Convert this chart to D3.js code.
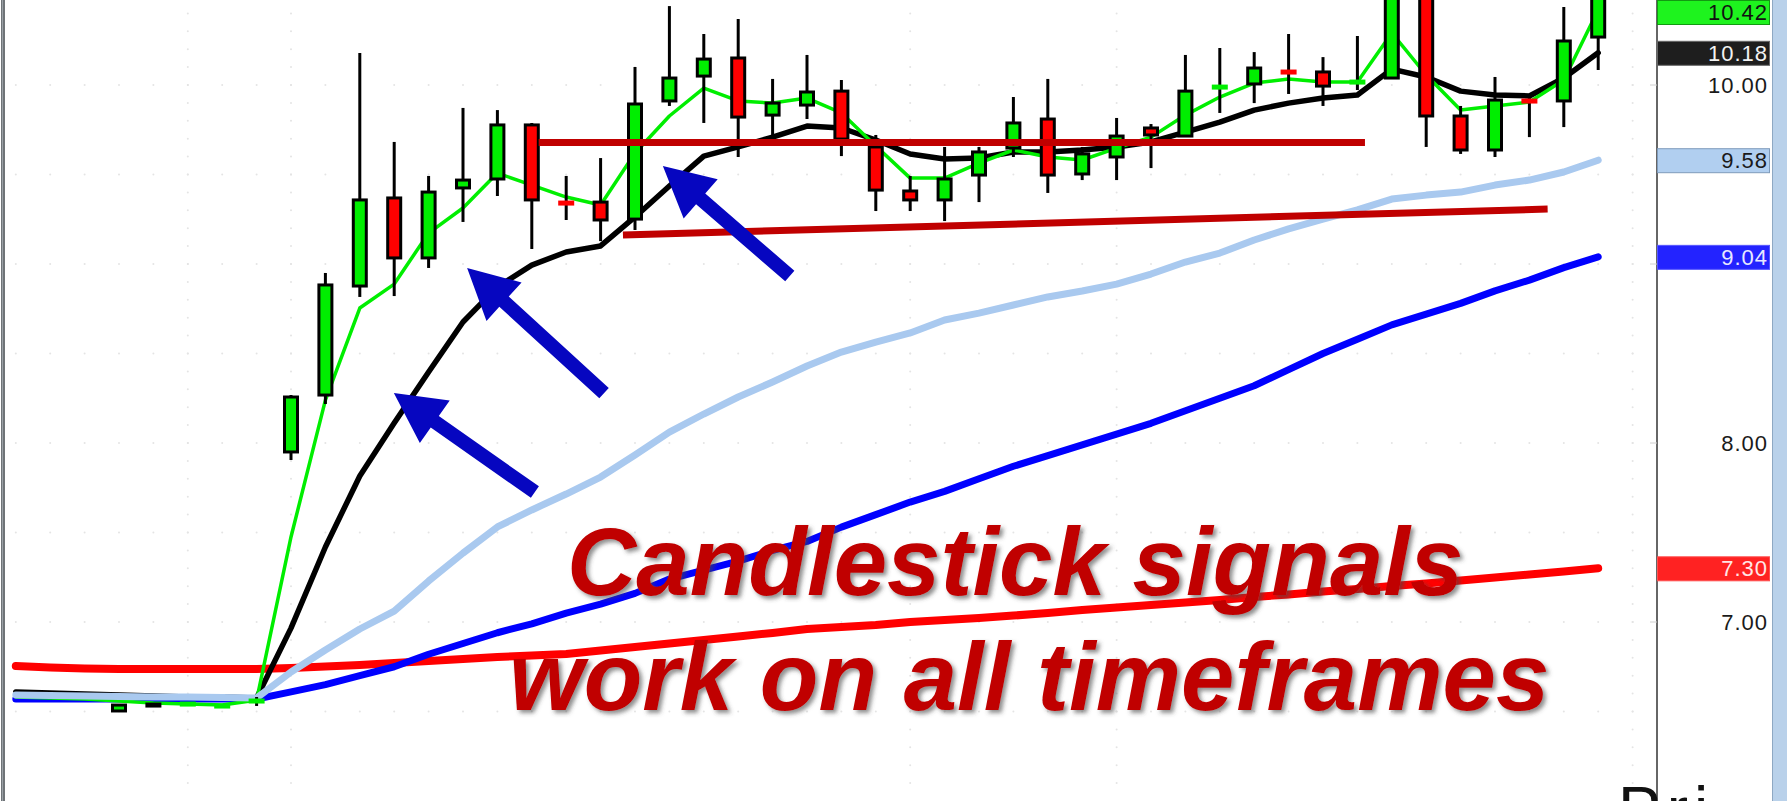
<!DOCTYPE html>
<meta charset="utf-8">
<head>
  <title>Candlestick signals</title>
</head>

<style>
  html, body { margin: 0; padding: 0; background: #fff; overflow: hidden; }
  svg { display: block; }
  .plabel { font-family: "Liberation Sans", Arial, sans-serif; font-size: 22px; letter-spacing: 1px; }
  .note { font-family: "Liberation Sans", Arial, sans-serif; font-size: 96px; font-weight: bold; font-style: italic; fill: #c00000; }
</style>

<body>
  <div id="content"></div>
  <script src="https://cdnjs.cloudflare.com/ajax/libs/d3/7.8.5/d3.min.js"></script>
  <script>

const width = 1787
const height = 801

// candles (index 0..46), null = no bar
var opens  = [null,null,null,6.503,6.536,6.540,6.525,6.553,7.950,8.268,8.877,9.369,9.034,9.425,9.475,9.777,9.346,9.346,9.251,9.911,10.050,10.151,9.832,9.888,9.966,9.654,9.408,9.358,9.497,9.648,9.810,9.503,9.598,9.760,9.715,9.983,10.006,10.078,10.073,10.011,10.039,10.587,9.827,9.637,9.916,9.911,10.268];
var highs  = [null,null,null,6.536,6.536,6.543,6.536,6.581,8.268,8.950,10.179,9.682,9.492,9.872,9.860,9.788,9.492,9.592,10.101,10.441,10.285,10.369,10.034,10.168,10.028,9.721,9.492,9.654,9.654,9.933,10.034,9.654,9.816,9.782,10.168,10.207,10.184,10.285,10.156,10.274,10.698,10.698,9.883,10.045,9.933,10.436,10.698];
var lows   = [null,null,null,6.503,6.536,6.540,6.525,6.531,7.905,8.218,8.816,8.821,8.978,9.235,9.380,9.084,9.246,9.128,9.190,9.883,9.788,9.598,9.676,9.810,9.603,9.296,9.296,9.240,9.346,9.598,9.397,9.469,9.469,9.536,9.715,9.844,9.899,9.950,9.883,9.972,10.035,9.654,9.615,9.598,9.709,9.765,10.084];
var closes = [null,null,null,6.536,6.536,6.543,6.536,6.564,8.257,8.883,9.358,9.034,9.402,9.469,9.777,9.358,9.335,9.246,9.894,10.039,10.145,9.821,9.899,9.961,9.698,9.413,9.358,9.475,9.626,9.788,9.497,9.615,9.715,9.721,9.966,9.994,10.095,10.067,9.994,10.022,10.559,9.827,9.637,9.916,9.905,10.246,10.559];

// moving averages
var maGreen = [6.581,6.575,6.570,6.559,6.547,6.542,6.536,6.564,7.475,8.240,8.754,8.888,9.173,9.313,9.508,9.441,9.374,9.330,9.620,9.827,9.983,9.911,9.899,9.927,9.844,9.659,9.480,9.480,9.564,9.637,9.598,9.581,9.648,9.709,9.832,9.933,10.011,10.034,10.017,10.017,10.291,10.056,9.860,9.883,9.905,10.028,10.420];
var maBlack = [6.609,6.603,6.598,6.592,6.587,6.581,6.581,6.575,6.966,7.419,7.816,8.112,8.397,8.676,8.872,8.994,9.067,9.101,9.263,9.436,9.603,9.654,9.709,9.771,9.760,9.693,9.615,9.587,9.592,9.626,9.626,9.637,9.654,9.682,9.737,9.793,9.860,9.899,9.927,9.944,10.089,10.045,9.966,9.944,9.939,10.039,10.180];
var maLightBlue = [6.592,6.589,6.587,6.584,6.581,6.581,6.578,6.575,6.721,6.844,6.961,7.061,7.229,7.385,7.531,7.626,7.715,7.810,7.933,8.061,8.162,8.257,8.341,8.430,8.508,8.564,8.615,8.687,8.726,8.771,8.816,8.849,8.888,8.944,9.011,9.061,9.134,9.196,9.251,9.302,9.363,9.385,9.402,9.441,9.469,9.514,9.580];
var maBlue = [6.57,6.57,6.57,6.57,6.57,6.57,6.57,6.57,6.61,6.65,6.70,6.75,6.82,6.88,6.94,6.99,7.05,7.10,7.16,7.24,7.29,7.34,7.40,7.45,7.53,7.60,7.67,7.73,7.80,7.87,7.93,7.99,8.05,8.11,8.18,8.25,8.32,8.41,8.50,8.58,8.66,8.72,8.78,8.85,8.91,8.98,9.04];
var maRed = [6.754,6.746,6.740,6.737,6.737,6.737,6.737,6.737,6.743,6.751,6.760,6.771,6.782,6.793,6.804,6.813,6.821,6.841,6.860,6.880,6.899,6.919,6.939,6.961,6.972,6.983,7.000,7.011,7.022,7.036,7.050,7.067,7.081,7.095,7.109,7.123,7.140,7.154,7.170,7.184,7.201,7.215,7.232,7.249,7.265,7.282,7.300];

// axis
var priceTicks = [7, 8, 10];
var tickMarks = [7, 8, 9, 10];
var lastLabels = [10.42, 10.18, 9.58, 9.04, 7.30];
var lastColors = ["#1ef31e", "#1e1e1e", "#b1cff0", "#2323ff", "#ff2222"];
var lastBorders = ["#129a12", "#666666", "#7f9bbb", "#5555ff", "#ff5050"];
var lastText = ["#111111", "#f2f2f2", "#1a1a1a", "#e8e8ff", "#ffe6e6"];

// hand drawn annotations (bar index, price)
var trendUpper = [[15.2, 9.679], [39.22, 9.679]];
var trendLower = [[17.65, 9.162], [44.53, 9.307]];
var arrowTips  = [[10.99, 8.279], [13.12, 8.978], [18.81, 9.547]];
var arrowTails = [[15.09, 7.726], [17.10, 8.279], [22.50, 8.933]];
var noteLines = ["Candlestick signals", "work on all timeframes"];
var panelTitle = "Pri";

var gridCols = [5, 8, 26, 32, 47];

var x = d3.scaleLinear().domain([0, 46]).range([15.8, 1598.2]);
var y = d3.scaleLinear().domain([6, 10.475]).range([height, 0]);

const svg = d3.select('#content')
  .append('svg')
    .attr('width', width)
    .attr('height', height)

var defs = svg.append('defs');
defs.append('filter').attr('id', 'shadow')
    .attr('x', '-5%').attr('y', '-20%').attr('width', '110%').attr('height', '140%')
  .append('feDropShadow')
    .attr('dx', 3).attr('dy', 3).attr('stdDeviation', 2)
    .attr('flood-color', '#444').attr('flood-opacity', 0.6);

svg.append('rect').attr('width', width).attr('height', height).attr('fill', '#fff');

// dotted grid
var grid = svg.append('g').attr('fill', '#e4e4e4');
d3.range(6.5, 10.01, 0.5).forEach(function(p) {
  d3.range(0, 48).forEach(function(i) {
    grid.append('circle').attr('cx', x(i)).attr('cy', y(p)).attr('r', 1);
  });
});
gridCols.forEach(function(i) {
  d3.range(6.1, 10.45, 0.1).forEach(function(p) {
    grid.append('circle').attr('cx', x(i)).attr('cy', y(p)).attr('r', 1);
  });
});

// left frame
svg.append('rect').attr('x', 1).attr('y', 0).attr('width', 4).attr('height', height).attr('fill', '#6f7478');
svg.append('rect').attr('x', 2).attr('y', 0).attr('width', 1).attr('height', height).attr('fill', '#9aa0a6');

// moving averages
var line = d3.line()
  .x(function(d, i) { return x(i); })
  .y(function(d) { return y(d); });

var mas = [
  { v: maRed, c: '#ff0000', w: 8 },
  { v: maBlue, c: '#0000ff', w: 7 },
  { v: maBlack, c: '#000000', w: 5.5 },
  { v: maGreen, c: '#00ee00', w: 3.5 },
  { v: maLightBlue, c: '#a9c9ef', w: 7 }
];
svg.append('g').selectAll('path')
  .data(mas)
  .enter().append('path')
    .attr('d', function(d) { return line(d.v); })
    .attr('fill', 'none')
    .attr('stroke', function(d) { return d.c; })
    .attr('stroke-width', function(d) { return d.w; })
    .attr('stroke-linejoin', 'round')
    .attr('stroke-linecap', 'round');

// candles
var bars = d3.range(opens.length).filter(function(i) { return opens[i] != null; }).map(function(i) {
  return { i: i, o: opens[i], h: highs[i], l: lows[i], c: closes[i] };
});
function barColor(d) {
  if (d.c > d.o) return '#00ee00';
  if (d.c < d.o) return '#ff0000';
  return '#000000';
}
var cg = svg.append('g');
var bw = 13;
bars.forEach(function(d) {
  var cx = x(d.i);
  var top = y(Math.max(d.o, d.c)), bot = y(Math.min(d.o, d.c));
  cg.append('line')
    .attr('x1', cx).attr('x2', cx)
    .attr('y1', y(d.h)).attr('y2', y(d.l))
    .attr('stroke', '#000').attr('stroke-width', 3);
  if (bot - top < 4) {
    cg.append('rect')
      .attr('x', cx - 8).attr('width', 16)
      .attr('y', (top + bot) / 2 - 2.5).attr('height', 5)
      .attr('fill', barColor(d));
  } else {
    cg.append('rect')
      .attr('x', cx - bw / 2).attr('width', bw)
      .attr('y', top).attr('height', bot - top)
      .attr('fill', barColor(d))
      .attr('stroke', '#000').attr('stroke-width', 3);
  }
});

// trend lines
[trendUpper, trendLower].forEach(function(t) {
  svg.append('line')
    .attr('x1', x(t[0][0])).attr('y1', y(t[0][1]))
    .attr('x2', x(t[1][0])).attr('y2', y(t[1][1]))
    .attr('stroke', '#c00000').attr('stroke-width', 7);
});

// arrows
function arrowPath(tip, tail) {
  var tx = x(tip[0]), ty = y(tip[1]), sx = x(tail[0]), sy = y(tail[1]);
  var len = Math.hypot(sx - tx, sy - ty);
  var ux = (sx - tx) / len, uy = (sy - ty) / len;
  var px = -uy, py = ux;
  var hl = 50, hw = 26, sw = 7;
  var bx = tx + ux * hl, by = ty + uy * hl;
  var pts = [
    [tx, ty],
    [bx + px * hw, by + py * hw],
    [bx + px * sw, by + py * sw],
    [sx + px * sw, sy + py * sw],
    [sx - px * sw, sy - py * sw],
    [bx - px * sw, by - py * sw],
    [bx - px * hw, by - py * hw]
  ];
  return 'M' + pts.map(function(p) { return p[0] + ',' + p[1]; }).join('L') + 'Z';
}
svg.append('g').selectAll('path')
  .data(arrowTips)
  .enter().append('path')
    .attr('d', function(d, i) { return arrowPath(d, arrowTails[i]); })
    .attr('fill', '#0606c0');

// price axis
var axisX = 1657;
var axis = d3.axisRight(y)
  .tickValues(priceTicks)
  .tickSize(0)
  .tickFormat(d3.format('.2f'));
var ag = svg.append('g').attr('transform', 'translate(' + axisX + ',0)').call(axis);
ag.select('.domain').remove();
ag.selectAll('text')
  .attr('class', 'plabel')
  .attr('x', 111)
  .attr('dy', '0.36em')
  .attr('text-anchor', 'end')
  .attr('fill', '#1a1a1a');
svg.append('line').attr('x1', axisX).attr('x2', axisX).attr('y1', 0).attr('y2', height)
  .attr('stroke', '#333').attr('stroke-width', 1.5);
tickMarks.forEach(function(p) {
  svg.append('line').attr('x1', axisX - 7).attr('x2', axisX).attr('y1', y(p)).attr('y2', y(p))
    .attr('stroke', '#d0d0d0').attr('stroke-width', 1);
});

// last value labels
var lb = svg.append('g');
lastLabels.forEach(function(v, k) {
  var top = Math.max(0, y(v) - 12);
  lb.append('rect')
    .attr('x', axisX + 0.5).attr('y', top + 0.5)
    .attr('width', 112).attr('height', 24)
    .attr('fill', lastColors[k]).attr('stroke', lastBorders[k]).attr('stroke-width', 1);
  lb.append('text')
    .attr('class', 'plabel')
    .attr('x', axisX + 111).attr('y', top + 12)
    .attr('dy', '0.36em')
    .attr('text-anchor', 'end')
    .attr('fill', lastText[k])
    .text(d3.format('.2f')(v));
});

// right strip
svg.append('rect').attr('x', 1773).attr('y', 0).attr('width', 14).attr('height', height).attr('fill', '#b9d1ea');
svg.append('rect').attr('x', 1772).attr('y', 0).attr('width', 1).attr('height', height).attr('fill', '#8ea8c3');

// note text
svg.append('text').attr('class', 'note').attr('filter', 'url(#shadow)')
  .attr('x', 567).attr('y', 595).text(noteLines[0]);
svg.append('text').attr('class', 'note').attr('filter', 'url(#shadow)')
  .attr('x', 509).attr('y', 710).text(noteLines[1]);

// cut off panel title
svg.append('text')
  .attr('x', 1618).attr('y', 832)
  .attr('font-family', '"Liberation Sans", Arial, sans-serif')
  .attr('font-size', 64).attr('letter-spacing', 6).attr('fill', '#111')
  .text(panelTitle);

</script>
</body>
</html>
